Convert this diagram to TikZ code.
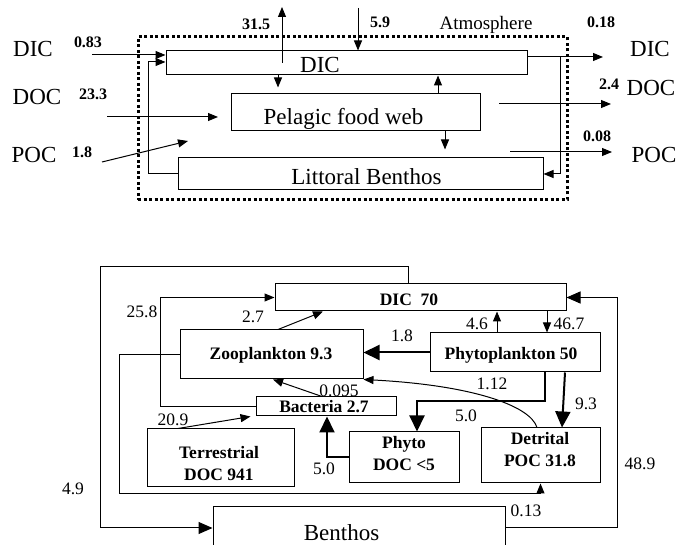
\documentclass[tikz,border=0pt]{standalone}
\usepackage{fontspec}
\setmainfont{Liberation Serif}
\usetikzlibrary{arrows.meta}

\begin{document}
\begin{tikzpicture}[x=1pt,y=-1pt,
  box/.style={draw,line width=1pt,inner sep=0pt},
  rim/.style={draw,line width=3pt,dash pattern=on 3pt off 2.5pt,inner sep=0pt},
  flow/.style={line width=1pt,-{Triangle[length=10pt,width=8pt]}},
  heavy/.style={line width=2pt,-{Triangle[length=16pt,width=15pt]}},
  bigtip/.style={line width=1pt,-{Triangle[length=14pt,width=12pt]}},
  txt/.style={font=\fontsize{23}{26}\selectfont,anchor=base,inner sep=0pt},
  flux/.style={font=\fontsize{16}{18}\selectfont\bfseries,anchor=base,inner sep=0pt},
  val/.style={font=\fontsize{17.5}{20}\selectfont,anchor=base,inner sep=0pt},
  pool/.style={font=\fontsize{17.5}{22}\selectfont\bfseries,align=center,anchor=base,inner sep=0pt}]
  \useasboundingbox (0,0) rectangle (681,545);

  % whole lake
  \node[box,minimum width=361pt,minimum height=24pt] (dicT) at (346.5,63) {};
  \node[box,minimum width=249pt,minimum height=37pt] (pel) at (355.5,112.5) {};
  \node[box,minimum width=365pt,minimum height=32pt] (lit) at (360.5,174) {};
  \node[txt] (dicTt) at (320,73) {DIC};
  \node[txt] (pelt) at (343.5,125) {Pelagic food web};
  \node[txt] (litt) at (366.5,185) {Littoral Benthos};

  \node[txt] (dicA) at (33,57) {DIC};
  \node[txt] (docA) at (37,105) {DOC};
  \node[txt] (pocA) at (34,163) {POC};
  \node[txt] (dicB) at (650,57) {DIC};
  \node[txt] (docB) at (651,96) {DOC};
  \node[txt] (pocB) at (654,163) {POC};
  \node[txt,font=\fontsize{19}{22}\selectfont] (atm) at (486,30) {Atmosphere};

  \node[flux] (f1) at (88,48) {0.83};
  \node[flux] (f2) at (93,100) {23.3};
  \node[flux] (f3) at (82,158) {1.8};
  \node[flux] (f4) at (256,30) {31.5};
  \node[flux] (f5) at (380,28) {5.9};
  \node[flux] (f6) at (601,28) {0.18};
  \node[flux] (f7) at (609,90) {2.4};
  \node[flux] (f8) at (597,142) {0.08};

  \coordinate (dicIn) at (92,55);    % inflows
  \coordinate (docIn) at (107,117);
  \coordinate (docEnd) at (218,117);
  \coordinate (pocIn) at (102,162);
  \coordinate (pocEnd) at (188,141);
  \coordinate (atmOut) at (282,7);   % gas exchange
  \coordinate (atmIn) at (358,8);
  \coordinate (dicOut) at (603,57);  % outflows
  \coordinate (docSt) at (499,104);
  \coordinate (docOut) at (611,104);
  \coordinate (pocSt) at (510,152);
  \coordinate (pocOut) at (612,152);

  \draw[flow] (dicIn) -- (dicIn -| dicT.west);
  \draw[flow] (lit.west) -| (148,62) -- (dicT.west |- 0,62);
  \draw[flow] (docIn) -- (docEnd);
  \draw[flow] (pocIn) -- (pocEnd);
  \draw[flow] (dicT.center -| atmOut) -- (atmOut);
  \draw[flow] (atmIn) -- (atmIn |- dicT.north);
  \draw[flow,shorten >=6pt] (dicT.south -| 278,0) -- (pel.north -| 278,0);
  \draw[flow] (pel.north -| 438,0) -- (dicT.south -| 438,0);
  \draw[flow,shorten >=8pt] (pel.south -| 445,0) -- (lit.north -| 445,0);
  \draw[flow] (dicT.east |- dicOut) -- (dicOut);
  \draw[flow] (dicT.east |- dicOut) -| (560,174) -- (lit.east);
  \draw[flow] (docSt) -- (docOut);
  \draw[flow] (pocSt) -- (pocOut);

  \node[rim,minimum width=429pt,minimum height=163pt] (lake) at (352.5,118.5) {};

  % pelagic carbon pools
  \node[box,minimum width=291pt,minimum height=27pt] (dic) at (420.5,297.5) {};
  \node[box,minimum width=183pt,minimum height=49pt] (zoo) at (271.5,354.5) {};
  \node[box,minimum width=170pt,minimum height=39pt] (phy) at (515,352.5) {};
  \node[box,minimum width=140pt,minimum height=19pt] (bac) at (326,406.5) {};
  \node[box,minimum width=147pt,minimum height=58pt] (ter) at (220.5,458) {};
  \node[box,minimum width=110pt,minimum height=51pt] (pdoc) at (404,457.5) {};
  \node[box,minimum width=119pt,minimum height=55pt] (det) at (540.5,455.5) {};
  \node[box,minimum width=292pt,minimum height=60pt] (ben) at (359,537) {};

  \node[pool] (dict) at (409,306) {DIC~~70};
  \node[pool] (zoot) at (271,359.5) {Zooplankton 9.3};
  \node[pool] (phyt) at (511,359.5) {Phytoplankton 50};
  \node[pool] (bact) at (324,413) {Bacteria 2.7};
  \node[pool,anchor=center] (tert) at (219,463.5) {Terrestrial\\DOC 941};
  \node[pool,anchor=center] (pdoct) at (404,453.5) {Phyto\\DOC <5};
  \node[pool,anchor=center] (dett) at (540,449.5) {Detrital\\POC 31.8};
  \node[txt] (bent) at (341.5,540) {Benthos};

  % fluxes
  \node[val] (v1) at (142,318) {25.8};
  \node[val] (v2) at (253,323) {2.7};
  \node[val] (v3) at (402,342) {1.8};
  \node[val] (v4) at (477,330) {4.6};
  \node[val] (v5) at (569,330) {46.7};
  \node[val] (v6) at (339,397) {0.095};
  \node[val] (v7) at (173,426) {20.9};
  \node[val] (v8) at (492,390) {1.12};
  \node[val] (v9) at (466,422) {5.0};
  \node[val] (v10) at (586,410) {9.3};
  \node[val] (v11) at (324,475) {5.0};
  \node[val] (v12) at (73,495) {4.9};
  \node[val] (v13) at (640,470) {48.9};
  \node[val] (v14) at (526,517) {0.13};

  \draw[bigtip] (dic.north -| 408,0) -- (408,267) -| (100,528) -- (ben.west |- 0,528);
  \draw[bigtip] (ben.east |- 0,528) -| ([xshift=51pt]dic.east) -- (dic.east);
  \draw[flow] (zoo.west) -| (119,494) -| (det.south);
  \draw[flow] (bac.west) -| (160,297.5) -- (dic.west);
  \draw[flow] (zoo.north -| 278,0) -- (dic.south -| 323,0);
  \draw[heavy] (phy.west) -- (phy.west -| zoo.east);
  \draw[flow] (phy.north -| 497,0) -- (dic.south -| 497,0);
  \draw[flow] (dic.south -| 547,0) -- (phy.north -| 547,0);
  \draw[heavy] (phy.south -| 545,0) |- (417,401) -- (pdoc.north -| 417,0);
  \draw[heavy] (phy.south -| 565,0) -- (det.north -| 562,0);
  \draw[flow] (det.north -| 537,0) .. controls (530,405) and (470,385) .. (zoo.south east);
  \draw[flow] (bac.north -| 322,0) -- (zoo.south -| 273,0);
  \draw[flow] (ter.north -| 178,0) -- ([xshift=-5pt]bac.south west);
  \draw[heavy] (pdoc.west) -| (bac.south -| 327,0);
\end{tikzpicture}
\end{document}
